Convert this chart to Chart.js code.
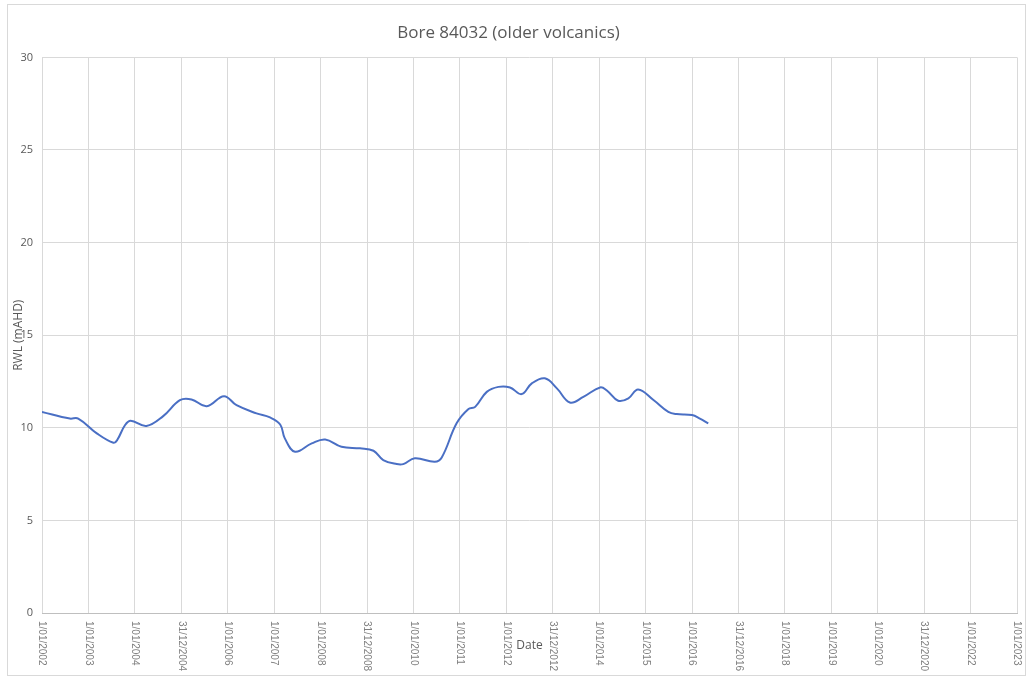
<!DOCTYPE html>
<html>
<head>
<meta charset="utf-8">
<script src="https://cdn.jsdelivr.net/npm/chart.js"></script>
<style>
  html, body { margin: 0; padding: 0; background: #fff; }
  #wrap { position: absolute; left: 0; top: 0; width: 1028px; height: 677px; }
</style>
</head>
<body>
<div id="wrap"><canvas id="myChart"></canvas></div>
<script>
// decimal years and water levels
const years = [2002.0, 2002.6, 2002.78, 2003.18, 2003.54, 2003.62, 2003.79, 2003.91, 2004.25, 2004.61,
    2004.97, 2005.22, 2005.55, 2005.92, 2006.19, 2006.62, 2006.91, 2007.13, 2007.23, 2007.45,
    2007.81, 2008.1, 2008.45, 2008.85, 2009.14, 2009.35, 2009.64, 2009.78, 2010.03, 2010.46,
    2010.61, 2010.93, 2011.18, 2011.33, 2011.58, 2011.83, 2012.08, 2012.33, 2012.55, 2012.83,
    2013.09, 2013.37, 2013.66, 2014.02, 2014.16, 2014.41, 2014.63, 2014.84, 2015.17, 2015.49,
    2015.67, 2016.0, 2016.17, 2016.35]
const rwl = [10.86, 10.5, 10.5, 9.7, 9.19, 9.34, 10.15, 10.38, 10.1, 10.63,
    11.49, 11.53, 11.17, 11.71, 11.22, 10.78, 10.56, 10.18, 9.43, 8.71,
    9.16, 9.37, 8.98, 8.89, 8.76, 8.26, 8.04, 8.04, 8.35, 8.17,
    8.4, 10.24, 11.0, 11.13, 11.94, 12.21, 12.18, 11.82, 12.4, 12.67,
    12.13, 11.37, 11.67, 12.18, 12.03, 11.46, 11.59, 12.07, 11.5, 10.86,
    10.74, 10.69, 10.5, 10.24]
const dateLabels = ['1/01/2002', '1/01/2003', '1/01/2004', '31/12/2004', '1/01/2006', '1/01/2007',
    '1/01/2008', '31/12/2008', '1/01/2010', '1/01/2011', '1/01/2012', '31/12/2012',
    '1/01/2014', '1/01/2015', '1/01/2016', '31/12/2016', '1/01/2018', '1/01/2019',
    '1/01/2020', '31/12/2020', '1/01/2022', '1/01/2023']
const firstYear = 2002
const lastYear = 2023

const points = years.map((y, i) => ({x: y, y: rwl[i]}))

// frame + rotated date labels + "Date" caption
const extras = {
    id: 'extras',
    beforeDraw(chart) {
        const c = chart.ctx
        c.save()
        c.fillStyle = '#fff'
        c.fillRect(0, 0, chart.width, chart.height)
        c.strokeStyle = '#d9d9d9'
        c.lineWidth = 1
        c.strokeRect(7.5, 4.5, 1018, 671)
        c.restore()
    },
    afterDraw(chart) {
        const c = chart.ctx
        const xs = chart.scales.x
        const area = chart.chartArea
        c.save()
        c.font = '10px "Liberation Sans", sans-serif'
        c.fillStyle = '#7f7f7f'
        c.textAlign = 'left'
        c.textBaseline = 'middle'
        dateLabels.forEach((lab, i) => {
            const px = xs.getPixelForValue(firstYear + i)
            c.save()
            c.translate(px, area.bottom + 8)
            c.rotate(Math.PI / 2)
            c.fillText(lab, 0, 0)
            c.restore()
        })
        c.font = '12px "Open Sans", sans-serif'
        c.fillStyle = '#595959'
        c.textAlign = 'center'
        c.fillText('Date', (area.left + area.right) / 2, area.bottom + 33)
        c.restore()
    }
}

const ctx = document.getElementById('myChart').getContext('2d')
const myChart = new Chart(ctx, {
    type: 'line',
    data: {
        datasets: [{
            label: 'RWL',
            data: points,
            borderColor: '#4a6fc4',
            borderWidth: 2,
            pointRadius: 0,
            tension: 0.4,
            fill: false,
        }]
    },
    options: {
        responsive: true,
        maintainAspectRatio: false,
        animation: false,
        layout: {padding: {left: 0, right: 11, top: 0, bottom: 0}},
        plugins: {
            legend: {display: false},
            tooltip: {enabled: false},
            title: {
                display: true,
                text: 'Bore 84032 (older volcanics)',
                color: '#595959',
                font: {family: '"Open Sans", sans-serif', size: 17, weight: 'normal'},
                padding: {top: 23, bottom: 14},
            },
        },
        scales: {
            x: {
                type: 'linear',
                min: firstYear,
                max: lastYear,
                ticks: {stepSize: 1, display: false},
                grid: {color: '#d9d9d9', drawTicks: false},
                border: {color: '#bfbfbf'},
                afterFit(scale) { scale.height = 64 },
            },
            y: {
                min: 0,
                max: 30,
                ticks: {
                    stepSize: 5,
                    color: '#595959',
                    padding: 9,
                    font: {family: '"Open Sans", sans-serif', size: 11},
                },
                grid: {color: '#d9d9d9', drawTicks: false},
                border: {display: false},
                title: {
                    display: true,
                    text: 'RWL (mAHD)',
                    color: '#595959',
                    font: {family: '"Open Sans", sans-serif', size: 12},
                    padding: {top: 11, bottom: 0},
                },
                afterFit(scale) { scale.width = 42 },
            }
        }
    },
    plugins: [extras],
})
</script>
</body>
</html>
